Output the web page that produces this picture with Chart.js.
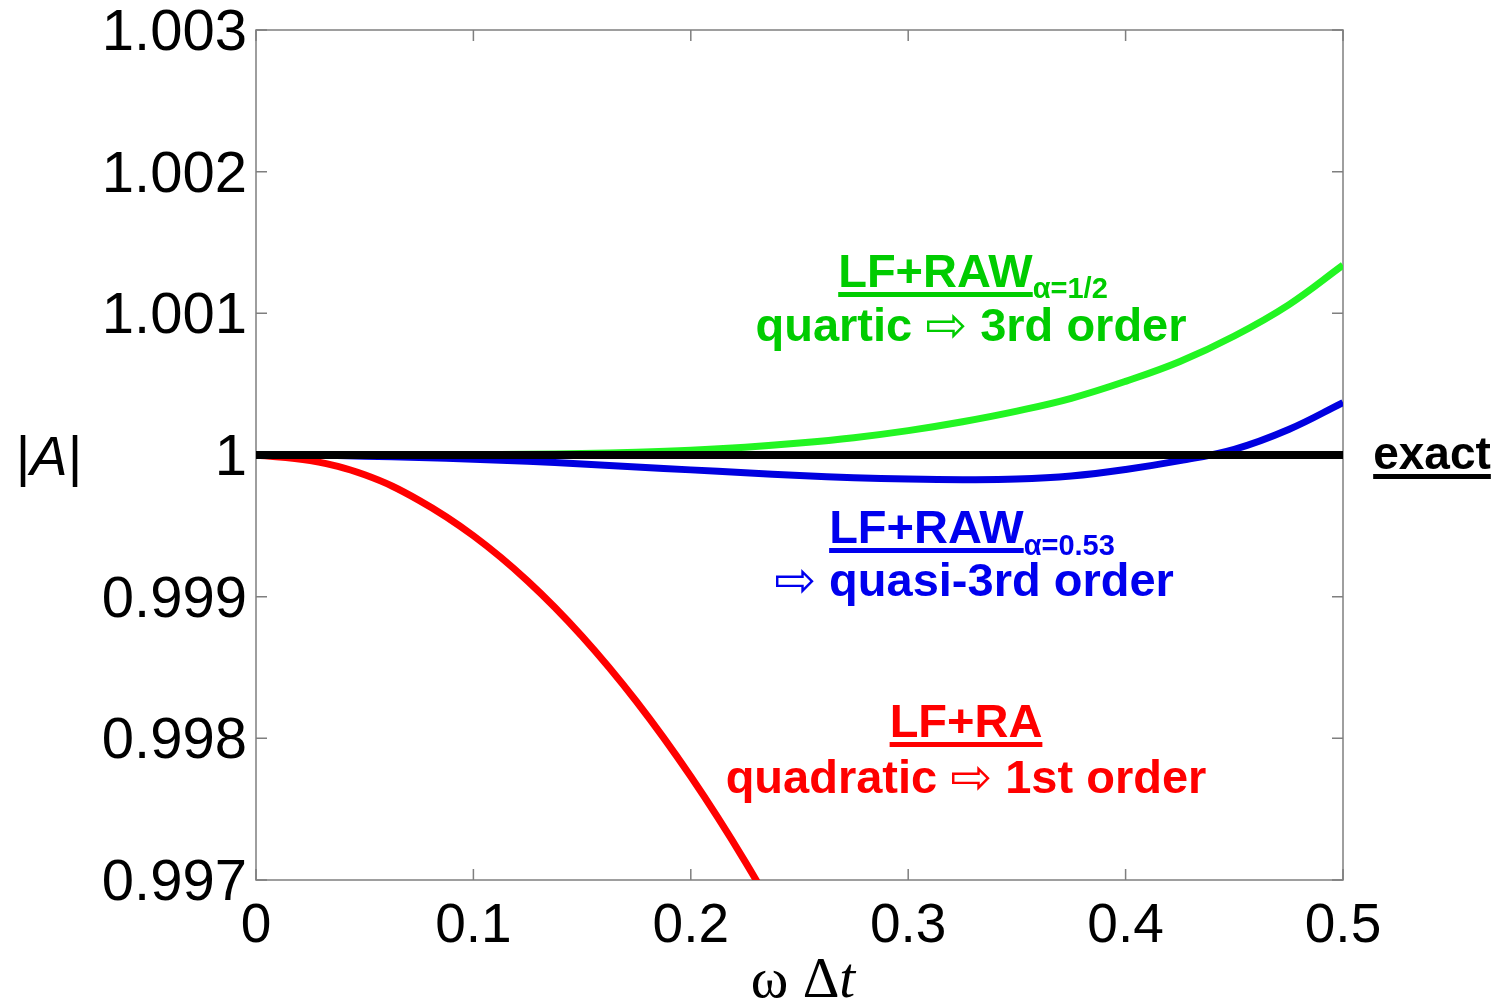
<!DOCTYPE html>
<html lang="en">
<head>
<meta charset="UTF-8" />
<title>|A| vs omega dt</title>
<script src="https://cdn.jsdelivr.net/npm/chart.js"></script>
<style>
  html, body { margin: 0; padding: 0; background: #fff; }
  #chartContainer { width: 1499px; height: 1003px; }
</style>
</head>
<body>
<div id="chartContainer"><canvas id="ampChart"></canvas></div>
<script>
// tick values
const xTicks = [0, 0.1, 0.2, 0.3, 0.4, 0.5];
const yTicks = [0.997, 0.998, 0.999, 1, 1.001, 1.002, 1.003];

// omega*dt samples
const xGrid = [0, 0.025, 0.05, 0.075, 0.1, 0.125, 0.15, 0.175, 0.2, 0.225, 0.25,
               0.275, 0.3, 0.325, 0.35, 0.375, 0.4, 0.425, 0.45, 0.475, 0.5];

// LF+RAW alpha=1/2 (green)
const greenVals = [1, 1, 1, 1.000001, 1.000002, 1.000005, 1.000011, 1.00002, 1.000034, 1.000055, 1.000084,
                   1.000122, 1.000172, 1.000235, 1.00031, 1.0004, 1.00052, 1.00066, 1.00084, 1.00106, 1.00134];

// LF+RAW alpha=0.53 (blue)
const blueVals = [1, 0.999998, 0.999992, 0.999982, 0.99997, 0.999955, 0.999937, 0.999915, 0.999895, 0.999875, 0.999855,
                  0.99984, 0.99983, 0.999826, 0.99983, 0.999852, 0.999898, 0.99996, 1.00004, 1.00018, 1.00037];

// LF+RA (red), runs off the bottom
const xRed = [0, 0.025, 0.05, 0.075, 0.1, 0.125, 0.15, 0.175, 0.2, 0.225, 0.25];
const redVals = [1, 0.99996, 0.99986, 0.99968, 0.99943, 0.99911, 0.99872, 0.99826, 0.99773, 0.99713, 0.99646];

// exact
const xExact = [0, 0.5];
const exactVals = [1, 1];

function pts(xs, ys) {
  return xs.map((x, i) => ({ x: x, y: ys[i] }));
}

const SANS = '"Liberation Sans", Arial, Helvetica, sans-serif';
const SERIF = '"Liberation Serif", "Times New Roman", serif';
const ARROW = '"DejaVu Sans", sans-serif';

// box + inward tick marks on all four sides
const framePlugin = {
  id: 'frame',
  beforeDatasetsDraw(chart) {
    const { ctx, chartArea: a, scales: { x, y } } = chart;
    ctx.save();
    ctx.strokeStyle = '#7f7f7f';
    ctx.lineWidth = 1.5;
    ctx.strokeRect(a.left, a.top, a.right - a.left, a.bottom - a.top);
    ctx.beginPath();
    xTicks.forEach(v => {
      const px = x.getPixelForValue(v);
      ctx.moveTo(px, a.bottom); ctx.lineTo(px, a.bottom - 11);
      ctx.moveTo(px, a.top); ctx.lineTo(px, a.top + 11);
    });
    yTicks.forEach(v => {
      const py = y.getPixelForValue(v);
      ctx.moveTo(a.left, py); ctx.lineTo(a.left + 11, py);
      ctx.moveTo(a.right, py); ctx.lineTo(a.right - 11, py);
    });
    ctx.stroke();
    ctx.restore();
  }
};

// draws a line of text runs centred on cx
function drawRuns(ctx, cx, baseline, runs, color) {
  let total = 0;
  runs.forEach(r => { ctx.font = r.font; r.w = ctx.measureText(r.t).width; total += r.w; });
  let x = cx - total / 2;
  ctx.fillStyle = color;
  ctx.textAlign = 'left';
  ctx.textBaseline = 'alphabetic';
  runs.forEach(r => {
    ctx.font = r.font;
    ctx.fillText(r.t, x, baseline + (r.dy || 0));
    if (r.ul) ctx.fillRect(x, baseline + 5, r.w, 5);
    x += r.w;
  });
}

const labelPlugin = {
  id: 'labels',
  afterDraw(chart) {
    const ctx = chart.ctx;
    const big = 'bold 47px ' + SANS;
    const sub = 'bold 29px ' + SANS;
    const arr = '50px ' + ARROW;
    ctx.save();

    drawRuns(ctx, 973, 287, [{ t: 'LF+RAW', font: big, ul: true }, { t: 'α=1/2', font: sub, dy: 11 }], '#00cc00');
    drawRuns(ctx, 971, 341, [
      { t: 'quartic ', font: big }, { t: '⇨', font: arr, dy: 1 }, { t: ' 3rd order', font: big }
    ], '#00cc00');

    drawRuns(ctx, 972, 543, [{ t: 'LF+RAW', font: big, ul: true }, { t: 'α=0.53', font: sub, dy: 12 }], '#0000ee');
    drawRuns(ctx, 974, 596, [{ t: '⇨', font: arr, dy: 1 }, { t: ' quasi-3rd order', font: big }], '#0000ee');

    drawRuns(ctx, 966, 737, [{ t: 'LF+RA', font: big, ul: true }], '#ff0000');
    drawRuns(ctx, 966, 793, [
      { t: 'quadratic ', font: big }, { t: '⇨', font: arr, dy: 1 }, { t: ' 1st order', font: big }
    ], '#ff0000');

    drawRuns(ctx, 1432, 469, [{ t: 'exact', font: 'bold 46px ' + SANS, ul: true }], '#000');

    // y axis title |A|
    drawRuns(ctx, 49, 475, [
      { t: '|', font: '56px ' + SANS },
      { t: 'A', font: 'italic 56px ' + SANS },
      { t: '|', font: '56px ' + SANS }
    ], '#000');

    // x axis title  ω Δt
    drawRuns(ctx, 803, 997, [
      { t: 'ω Δ', font: '57px ' + SERIF },
      { t: 't', font: 'italic 57px ' + SERIF }
    ], '#000');

    ctx.restore();
  }
};

const ctx = document.getElementById('ampChart').getContext('2d');
new Chart(ctx, {
  type: 'line',
  data: {
    datasets: [
      { label: 'exact', data: pts(xExact, exactVals), borderColor: '#000000', borderWidth: 8 },
      { label: 'LF+RAW α=1/2', data: pts(xGrid, greenVals), borderColor: '#22f522', borderWidth: 7 },
      { label: 'LF+RAW α=0.53', data: pts(xGrid, blueVals), borderColor: '#0000e0', borderWidth: 7 },
      { label: 'LF+RA', data: pts(xRed, redVals), borderColor: '#ff0000', borderWidth: 7 }
    ]
  },
  options: {
    animation: false,
    responsive: true,
    maintainAspectRatio: false,
    layout: { padding: { top: 30, right: 156, left: 0, bottom: 0 } },
    elements: {
      point: { radius: 0 },
      line: { tension: 0.4, borderCapStyle: 'butt' }
    },
    plugins: { legend: { display: false }, tooltip: { enabled: false } },
    scales: {
      x: {
        type: 'linear', min: 0, max: 0.5,
        grid: { display: false, drawTicks: false },
        border: { display: false },
        afterBuildTicks: s => { s.ticks = xTicks.map(v => ({ value: v })); },
        afterFit: s => { s.height = 123; s.paddingLeft = 0; s.paddingRight = 0; },
        ticks: {
          color: '#000', padding: 14, maxRotation: 0, autoSkip: false,
          font: { family: SANS, size: 55 },
          callback: v => String(+v.toFixed(1))
        }
      },
      y: {
        type: 'linear', min: 0.997, max: 1.003,
        grid: { display: false, drawTicks: false },
        border: { display: false },
        afterBuildTicks: s => { s.ticks = yTicks.map(v => ({ value: v })); },
        afterFit: s => { s.width = 256; s.paddingTop = 0; s.paddingBottom = 0; },
        ticks: {
          color: '#000', padding: 9, autoSkip: false, labelOffset: 4,
          font: { family: SANS, size: 58 },
          callback: v => String(+v.toFixed(3))
        }
      }
    }
  },
  plugins: [framePlugin, labelPlugin]
});
</script>
</body>
</html>
